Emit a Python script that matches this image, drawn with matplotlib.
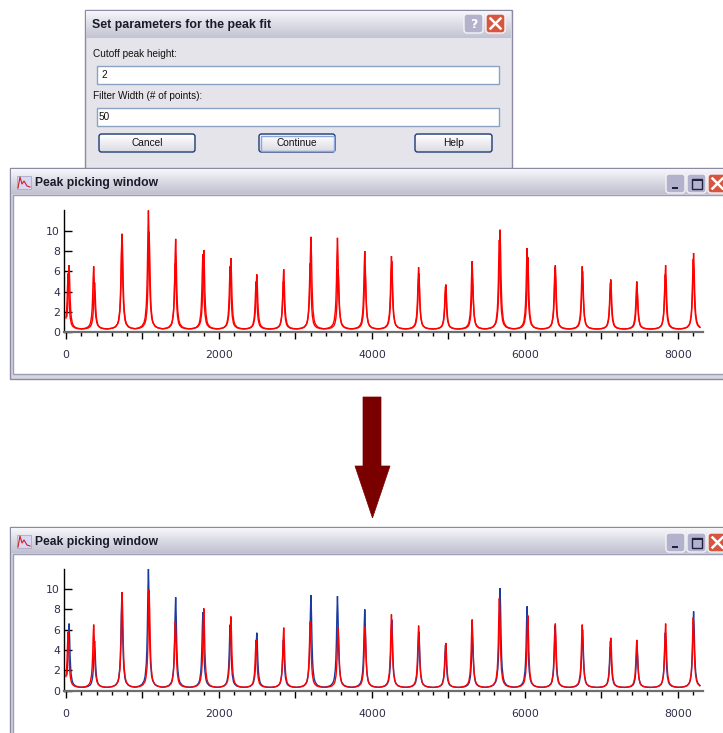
import numpy as np
import matplotlib.pyplot as plt
from matplotlib.patches import Rectangle, FancyBboxPatch, Polygon
from matplotlib.ticker import MultipleLocator
from matplotlib.colors import to_rgb

W, H = 723, 733

# peak centres (x units)
peak_pos = [40, 374, 730, 1078, 1434, 1790, 2147, 2495, 2843, 3203, 3550, 3907,
            4260, 4615, 4963, 5315, 5676, 6030, 6395, 6755, 7120, 7468, 7837, 8207]
# peak tops of the blue trace (lower window)
blue_h = [6.6, 4.9, 9.2, 12.0, 9.2, 7.7, 6.5, 5.7, 5.0, 9.4, 9.3, 8.0,
          7.0, 5.8, 4.5, 5.3, 10.1, 8.3, 6.4, 6.0, 4.9, 4.3, 5.7, 7.8]
# peak tops of the red trace (lower window)
red_h = [5.8, 6.5, 9.7, 9.9, 6.8, 8.1, 7.3, 5.0, 6.2, 6.8, 6.2, 6.3,
         7.5, 6.4, 4.7, 7.0, 9.1, 7.4, 6.6, 6.5, 5.2, 5.0, 6.6, 7.2]
# small offset of the red peaks against the blue ones (x units)
red_shift = [-12, -12, 4, 9, -4, 12, 9, -9, 4, -9, 9, 4,
             -4, -4, 4, -4, -9, 9, 4, -4, 4, -4, 4, -4]
baseline = 0.3
x_end = 8300
prof_dx = [-165, -120, -84, -56, -42, -28, -21, -14, -7, 0, 7, 14, 21, 28, 42, 56, 84, 120, 165]
prof_f = [0.006, 0.013, 0.027, 0.059, 0.10, 0.20, 0.31, 0.50, 0.80, 1.0,
          0.80, 0.50, 0.31, 0.20, 0.10, 0.059, 0.027, 0.013, 0.006]

xticks = [0, 1000, 2000, 3000, 4000, 5000, 6000, 7000, 8000]
xlabels = ['0', '', '2000', '', '4000', '', '6000', '', '8000']
yticks = [0, 2, 4, 6, 8, 10]


def trace(pos, hts, shift=None):
    xs, ys = [], []
    for i, (p, h) in enumerate(zip(pos, hts)):
        s = shift[i] if shift else 0
        for dx, f in zip(prof_dx, prof_f):
            xs.append(p + s + dx)
            ys.append(baseline + (h - baseline) * f)
    xs = np.array(xs)
    ys = np.array(ys)
    keep = (xs >= 0) & (xs <= x_end)
    return xs[keep], ys[keep]


def grad(ax, x0, y0, x1, y1, c0, c1, z):
    c0 = np.array(to_rgb(c0))
    c1 = np.array(to_rgb(c1))
    t = np.linspace(0, 1, 40)[:, None]
    img = (c0 + (c1 - c0) * t)[:, None, :]
    ax.imshow(img, extent=(x0, x1, y1, y0), aspect='auto', zorder=z,
              interpolation='bilinear')


def button(ax, x0, y0, x1, y1, label, z, default=False):
    grad(ax, x0 + 1, y0 + 1, x1 - 1, y1 - 1, '#FFFFFF', '#DCDCE4', z)
    ax.add_patch(FancyBboxPatch((x0, y0), x1 - x0, y1 - y0, boxstyle='round,pad=0,rounding_size=2.5',
                                fc='none', ec='#1F3C74', lw=1, zorder=z + 0.1))
    if default:
        ax.add_patch(Rectangle((x0 + 1.5, y0 + 1.5), x1 - x0 - 3, y1 - y0 - 3,
                               fc='none', ec='#8AA6DA', lw=1, zorder=z + 0.1))
    ax.text((x0 + x1) / 2, (y0 + y1) / 2 + 0.5, label, ha='center', va='center',
            fontsize=7.3, family=['Liberation Sans', 'DejaVu Sans'], color='#111111', zorder=z + 0.2)


def title_btn(ax, x0, y0, kind, z):
    w, h = 19, 19
    fc = '#D8543C' if kind == 'close' else '#B2B2CC'
    ax.add_patch(FancyBboxPatch((x0, y0), w, h, boxstyle='round,pad=0,rounding_size=3',
                                fc=fc, ec='#F4F4F8', lw=1, zorder=z))
    cx, cy = x0 + w / 2, y0 + h / 2
    if kind == 'close':
        ax.plot([cx - 5, cx + 5], [cy - 5, cy + 5], color='white', lw=1.8, zorder=z + 0.1)
        ax.plot([cx - 5, cx + 5], [cy + 5, cy - 5], color='white', lw=1.8, zorder=z + 0.1)
    elif kind == 'help':
        ax.text(cx, cy + 0.5, '?', ha='center', va='center', fontsize=9, fontweight='bold',
                color='white', family='DejaVu Sans', zorder=z + 0.1)
    elif kind == 'min':
        ax.add_patch(Rectangle((cx - 4, cy + 3), 6, 2, fc='#202040', zorder=z + 0.1))
    elif kind == 'max':
        ax.add_patch(Rectangle((cx - 5, cy - 5), 10, 10, fc='none', ec='#202040', lw=1, zorder=z + 0.1))
        ax.add_patch(Rectangle((cx - 5, cy - 5), 10, 2, fc='#202040', zorder=z + 0.1))


def window(ax, y0, y1, z):
    ax.add_patch(Rectangle((10, y0), 740, y1 - y0, fc='#D6D6E0', ec='#8A8AA4', lw=1, zorder=z))
    grad(ax, 11, y0 + 1, 723, y0 + 26, '#F6F6FA', '#C0C0D0', z + 0.1)
    ax.add_patch(Rectangle((13, y0 + 27), 740, y1 - y0 - 32, fc='white', ec='#9C9CB4', lw=1, zorder=z + 0.2))
    # little graph icon
    ax.add_patch(Rectangle((17, y0 + 8), 14, 13, fc='#D8D8F4', ec='#A0A0C0', lw=0.5, zorder=z + 0.3))
    ax.plot([18, 20, 22, 24, 27, 30], [y0 + 20, y0 + 9, y0 + 16, y0 + 13, y0 + 18, y0 + 19],
            color='#D02020', lw=0.8, zorder=z + 0.4)
    ax.text(35, y0 + 15, 'Peak picking window', ha='left', va='center', fontsize=8.7,
            fontweight='bold', family=['Liberation Sans', 'DejaVu Sans'], color='#1A1A2A', zorder=z + 0.4)
    title_btn(ax, 666, y0 + 6, 'min', z + 0.5)
    title_btn(ax, 687, y0 + 6, 'max', z + 0.5)
    title_btn(ax, 708, y0 + 6, 'close', z + 0.5)


def plot_axes(fig, y_zero, y_twelve, series):
    left = 64
    right = 703
    ax = fig.add_axes([left / W, 1 - y_zero / H, (right - left) / W, (y_zero - y_twelve) / H])
    ax.patch.set_visible(False)
    for xs, ys, c in series:
        ax.plot(xs, ys, color=c, lw=1.0, solid_joinstyle='miter')
    ax.set_xlim(-26, 8330)
    ax.set_ylim(0, 12)
    ax.set_xticks(xticks)
    ax.set_xticklabels(xlabels)
    ax.xaxis.set_minor_locator(MultipleLocator(200))
    ax.set_yticks(yticks)
    ax.set_yticklabels([str(v) for v in yticks])
    ax.spines['top'].set_visible(False)
    ax.spines['right'].set_visible(False)
    ax.spines['left'].set_color('black')
    ax.spines['left'].set_linewidth(1.0)
    ax.spines['bottom'].set_color('#6E6E6E')
    ax.spines['bottom'].set_linewidth(1.6)
    ax.tick_params(axis='x', which='major', direction='out', length=5, width=1, color='black',
                   pad=8, labelsize=7.8, labelcolor='#2E2E4A')
    ax.tick_params(axis='x', which='minor', direction='out', length=3, width=1, color='black')
    ax.tick_params(axis='y', which='major', direction='in', length=6, width=1, color='black',
                   pad=3, labelsize=7.8, labelcolor='#2E2E4A')
    return ax


fig = plt.figure(figsize=(W / 100, H / 100), dpi=100)
fig.patch.set_facecolor('white')
bg = fig.add_axes([0, 0, 1, 1])
bg.axis('off')

# dialog box
bg.add_patch(Rectangle((85, 10), 427, 170, fc='#E4E4EA', ec='#8A8AA4', lw=1, zorder=1))
grad(bg, 86, 11, 511, 38, '#F6F6FA', '#C2C2D2', 1.1)
bg.text(92, 25, 'Set parameters for the peak fit', ha='left', va='center', fontsize=8.9,
        fontweight='bold', family=['Liberation Sans', 'DejaVu Sans'], color='#1A1A2A', zorder=1.2)
title_btn(bg, 464, 14, 'help', 1.3)
title_btn(bg, 486, 14, 'close', 1.3)
lab_font = dict(fontsize=7.2, family=['Liberation Sans', 'DejaVu Sans'], color='#111111', zorder=1.4)
bg.text(93, 54, 'Cutoff peak height:', ha='left', va='center', **lab_font)
bg.add_patch(Rectangle((97, 66), 402, 18, fc='white', ec='#8CA2C2', lw=1, zorder=1.3))
bg.text(101, 75.5, '2', ha='left', va='center', **lab_font)
bg.text(93, 96, 'Filter Width (# of points):', ha='left', va='center', **lab_font)
bg.add_patch(Rectangle((97, 108), 402, 18, fc='white', ec='#8CA2C2', lw=1, zorder=1.3))
bg.text(99, 117.5, '50', ha='left', va='center', **lab_font)
button(bg, 99, 134, 195, 152, 'Cancel', 1.5)
button(bg, 259, 134, 335, 152, 'Continue', 1.5, default=True)
button(bg, 415, 134, 492, 152, 'Help', 1.5)

# the two graph windows
window(bg, 168, 379, 10)
window(bg, 527, 760, 20)

# arrow between them
bg.add_patch(Polygon([(363, 397), (381, 397), (381, 466), (390, 466), (372.5, 518),
                      (355, 466), (363, 466)], closed=True, fc='#7A0000', ec='#7A0000',
                     lw=0.5, zorder=5))

bg.set_xlim(0, W)
bg.set_ylim(H, 0)

bx, by = trace(peak_pos, blue_h)
rx, ry = trace(peak_pos, red_h, red_shift)

plot_axes(fig, 332.3, 210.4, [(bx, by, '#FF0000'), (rx, ry, '#FF0000')])
plot_axes(fig, 690.7, 568.7, [(bx, by, '#1A3A9E'), (rx, ry, '#FF0000')])

fig.savefig('out.png', dpi=100)
